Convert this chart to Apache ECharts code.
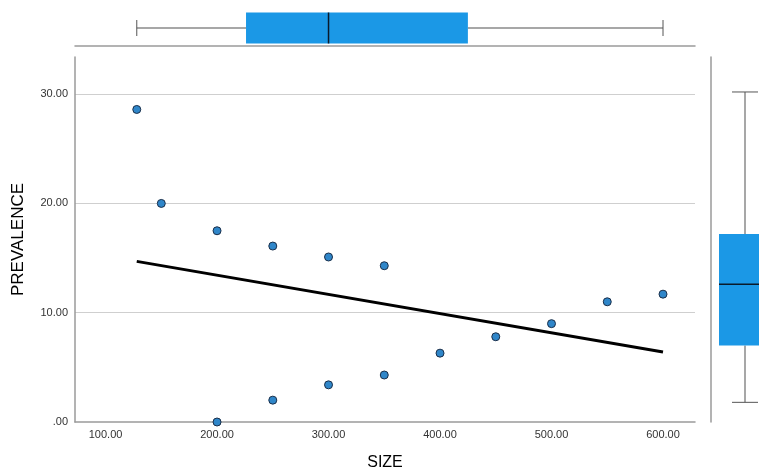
<!DOCTYPE html>
<html>
<head>
<meta charset="utf-8">
<script src="https://cdn.jsdelivr.net/npm/echarts@6/dist/echarts.min.js"></script>
<style>html,body{margin:0;padding:0;background:#fff;}#c{width:759px;height:470px;}</style>
</head>
<body>
<div id="c"></div>
<script>
var sizeVals = [128, 150, 200, 250, 300, 350, 400, 450, 500, 550, 600, 200, 250, 300, 350];
var prevVals = [28.6, 20.0, 17.5, 16.1, 15.1, 14.3, 6.3, 7.8, 9.0, 11.0, 11.7, 0.0, 2.0, 3.4, 4.3];
var fitX = [128, 600];
var fitY = [14.7, 6.4];
var sizeBox = [128, 226, 300, 425, 600];      // min, q1, median, q3, max
var prevBox = [1.8, 7.0, 12.6, 17.2, 30.2];
var xTicks = [100, 200, 300, 400, 500, 600];
var yTicks = [0, 10, 20, 30];

var X_MIN = 72.6, X_MAX = 628.7, Y_MIN = 0, Y_MAX = 33.4;
var FONT = 'Liberation Sans, Arial, sans-serif';
function fmt(v){ return v === 0 ? '.00' : v.toFixed(2); }

var scatterData = sizeVals.map(function(v,i){ return [v, prevVals[i]]; });
var fitData = fitX.map(function(v,i){ return [v, fitY[i]]; });

var chart = echarts.init(document.getElementById('c'), null, {renderer:'canvas'});
var BOX = '#1b98e6', WHISK = '#8a8a8a', CAP = '#555', MED = '#0a1a2a';

function boxH(params, api){
  var d = sizeBox;
  var y = api.coord([d[0], 0])[1];
  var p = d.map(function(v){ return api.coord([v, 0])[0]; });
  var hb = 15.5, hc = 8;
  return {type:'group', children:[
    {type:'line', shape:{x1:p[0],y1:y,x2:p[1],y2:y}, style:{stroke:WHISK,lineWidth:1.5}},
    {type:'line', shape:{x1:p[3],y1:y,x2:p[4],y2:y}, style:{stroke:WHISK,lineWidth:1.5}},
    {type:'line', shape:{x1:p[0],y1:y-hc,x2:p[0],y2:y+hc}, style:{stroke:CAP,lineWidth:1}},
    {type:'line', shape:{x1:p[4],y1:y-hc,x2:p[4],y2:y+hc}, style:{stroke:CAP,lineWidth:1}},
    {type:'rect', shape:{x:p[1],y:y-hb,width:p[3]-p[1],height:2*hb}, style:{fill:BOX}},
    {type:'line', shape:{x1:p[2],y1:y-hb,x2:p[2],y2:y+hb}, style:{stroke:MED,lineWidth:1.5}}
  ]};
}
function boxV(params, api){
  var d = prevBox;
  var x = api.coord([0, d[0]])[0];
  var p = d.map(function(v){ return api.coord([0, v])[1]; });
  var hb = 26, hc = 13;
  return {type:'group', children:[
    {type:'line', shape:{x1:x,y1:p[0],x2:x,y2:p[1]}, style:{stroke:WHISK,lineWidth:1.5}},
    {type:'line', shape:{x1:x,y1:p[3],x2:x,y2:p[4]}, style:{stroke:WHISK,lineWidth:1.5}},
    {type:'line', shape:{x1:x-hc,y1:p[0],x2:x+hc,y2:p[0]}, style:{stroke:CAP,lineWidth:1}},
    {type:'line', shape:{x1:x-hc,y1:p[4],x2:x+hc,y2:p[4]}, style:{stroke:CAP,lineWidth:1}},
    {type:'rect', shape:{x:x-hb,y:p[3],width:2*hb,height:p[1]-p[3]}, style:{fill:BOX}},
    {type:'line', shape:{x1:x-hb,y1:p[2],x2:x+hb,y2:p[2]}, style:{stroke:MED,lineWidth:1.5}}
  ]};
}

chart.setOption({
  animation:false,
  backgroundColor:'#fff',
  textStyle:{fontFamily:FONT},
  grid:[
    {left:75, top:57, width:620, height:365, outerBoundsMode:'none', containLabel:false},
    {left:75, top:10, width:620, height:36, outerBoundsMode:'none', containLabel:false},
    {left:711, top:57, width:68, height:365, outerBoundsMode:'none', containLabel:false}
  ],
  xAxis:[
    {gridIndex:0, type:'value', min:X_MIN, max:X_MAX,
     name:'SIZE', nameLocation:'middle', nameGap:33,
     nameTextStyle:{fontSize:16, color:'#000', fontFamily:FONT},
     axisLine:{show:true, onZero:false, lineStyle:{color:'#9a9a9a', width:1.5}},
     axisTick:{show:false}, splitLine:{show:false},
     axisLabel:{customValues:xTicks, formatter:fmt, fontSize:11, color:'#333', margin:7, fontFamily:FONT}},
    {gridIndex:1, type:'value', min:X_MIN, max:X_MAX,
     axisLine:{show:true, onZero:false, lineStyle:{color:'#9a9a9a', width:1.5}},
     axisTick:{show:false}, axisLabel:{show:false}, splitLine:{show:false}},
    {gridIndex:2, type:'category', data:['b'], show:false}
  ],
  yAxis:[
    {gridIndex:0, type:'value', min:Y_MIN, max:Y_MAX, interval:10,
     name:'PREVALENCE', nameLocation:'middle', nameGap:48,
     nameTextStyle:{fontSize:17, color:'#000', fontFamily:FONT},
     axisLine:{show:true, onZero:false, lineStyle:{color:'#9a9a9a', width:1.5}},
     axisTick:{show:false},
     splitLine:{show:true, showMaxLine:false, showMinLine:false, lineStyle:{color:'#cfcfcf', width:1}},
     axisLabel:{customValues:yTicks, formatter:fmt, fontSize:11, color:'#333', margin:7, fontFamily:FONT}},
    {gridIndex:1, type:'category', data:['b'], show:false},
    {gridIndex:2, type:'value', min:Y_MIN, max:Y_MAX,
     axisLine:{show:true, onZero:false, lineStyle:{color:'#9a9a9a', width:1.5}},
     axisTick:{show:false}, axisLabel:{show:false}, splitLine:{show:false}}
  ],
  series:[
    {type:'line', xAxisIndex:0, yAxisIndex:0, data:fitData, symbol:'none',
     lineStyle:{color:'#000', width:3}, z:3},
    {type:'scatter', xAxisIndex:0, yAxisIndex:0, data:scatterData, symbolSize:8,
     itemStyle:{color:'#2f86c9', borderColor:'#1a2f4a', borderWidth:1, opacity:1}, z:4},
    {type:'custom', xAxisIndex:1, yAxisIndex:1, data:[[sizeBox[2], 0]], renderItem:boxH, clip:false},
    {type:'custom', xAxisIndex:2, yAxisIndex:2, data:[[0, prevBox[2]]], renderItem:boxV, clip:false}
  ]
});
</script>
</body>
</html>
